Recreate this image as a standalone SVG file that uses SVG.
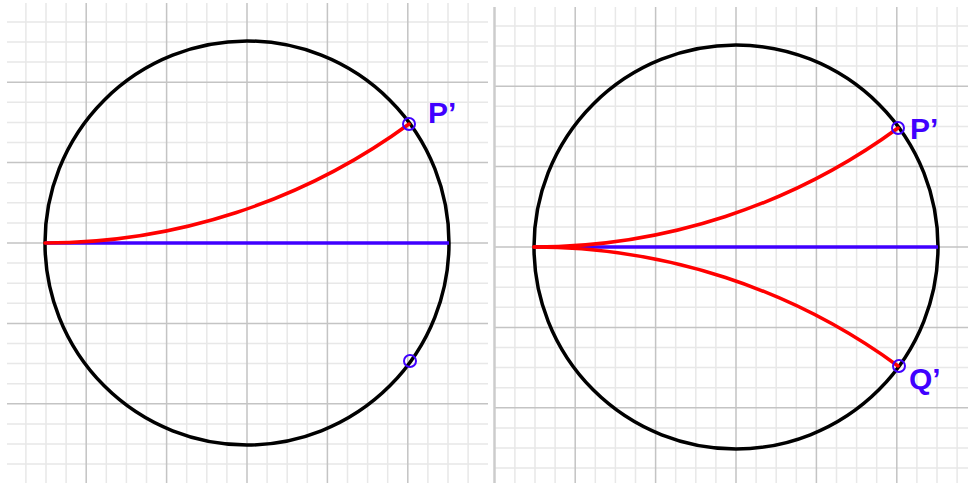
<svg xmlns="http://www.w3.org/2000/svg" width="968" height="483" viewBox="0 0 968 483">
<style>
.minor{stroke:#e8e8e8;stroke-width:1.5;fill:none}
.major{stroke:#c4c4c4;stroke-width:1.5;fill:none}
.disk{fill:none;stroke:#000;stroke-width:3.5}
.geo{fill:none;stroke:#ff0000;stroke-width:3.5;stroke-linecap:round}
.diam{fill:none;stroke:#4000ff;stroke-width:3.5}
.pt{fill:none;stroke:#4000ff;stroke-width:2}
.lbl{font-family:"Liberation Sans",Arial,sans-serif;font-weight:bold;font-size:30px;fill:#4000ff}
</style>
<rect width="968" height="483" fill="#ffffff"/>
<g id="grid-left">
<path class="minor" d="M25.9 3V483M46 3V483M66.1 3V483M106.3 3V483M126.4 3V483M146.5 3V483M186.7 3V483M206.8 3V483M226.9 3V483M267.1 3V483M287.2 3V483M307.3 3V483M347.5 3V483M367.6 3V483M387.7 3V483M427.9 3V483M448 3V483M468.1 3V483"/>
<path class="minor" d="M7 21.9H488M7 42H488M7 62.1H488M7 102.3H488M7 122.4H488M7 142.5H488M7 182.7H488M7 202.8H488M7 222.9H488M7 263.1H488M7 283.2H488M7 303.3H488M7 343.5H488M7 363.6H488M7 383.7H488M7 423.9H488M7 444H488M7 464.1H488"/>
<path class="major" d="M86.2 3V483M166.6 3V483M247 3V483M327.4 3V483M407.8 3V483M7 82.2H488M7 162.6H488M7 243H488M7 323.4H488M7 403.8H488"/>
</g>
<g id="grid-right">
<path class="minor" d="M514.9 7V483M535 7V483M555.1 7V483M595.3 7V483M615.4 7V483M635.5 7V483M675.7 7V483M695.8 7V483M715.9 7V483M756.1 7V483M776.2 7V483M796.3 7V483M836.5 7V483M856.6 7V483M876.7 7V483M916.9 7V483M937 7V483M957.1 7V483"/>
<path class="minor" d="M494 25.9H968M494 46H968M494 66.1H968M494 106.3H968M494 126.4H968M494 146.5H968M494 186.7H968M494 206.8H968M494 226.9H968M494 267.1H968M494 287.2H968M494 307.3H968M494 347.5H968M494 367.6H968M494 387.7H968M494 427.9H968M494 448H968M494 468.1H968"/>
<path class="major" d="M575.2 7V483M655.6 7V483M736 7V483M816.4 7V483M896.8 7V483M494 86.2H968M494 166.6H968M494 247H968M494 327.4H968M494 407.8H968"/>
<line x1="494.5" y1="7" x2="494.5" y2="483" stroke="#cccccc" stroke-width="2.5"/>
</g>
<g id="left-disk">
<circle class="disk" cx="247" cy="243" r="202"/>
</g>
<g id="right-disk">
<circle class="disk" cx="736" cy="247" r="202"/>
</g>
<g id="connectors">
<line class="diam" x1="45" y1="243" x2="449" y2="243"/>
<path class="geo" d="M45 243A616.3 616.3 0 0 0 409 124"/>
<line class="diam" x1="534" y1="247" x2="938" y2="247"/>
<path class="geo" d="M534 247A616.3 616.3 0 0 0 898 128"/>
<path class="geo" d="M534 247A616.3 616.3 0 0 1 898 366"/>
</g>
<g id="left-P">
<circle class="pt" cx="409" cy="124" r="6"/>
<text class="lbl" x="428" y="123">P’</text>
</g>
<g id="left-Q">
<circle class="pt" cx="410" cy="361" r="6"/>
</g>
<g id="right-P">
<circle class="pt" cx="898" cy="128" r="6"/>
<text class="lbl" x="910" y="139">P’</text>
</g>
<g id="right-Q">
<circle class="pt" cx="899" cy="366" r="6"/>
<text class="lbl" x="909" y="389">Q’</text>
</g>
</svg>
